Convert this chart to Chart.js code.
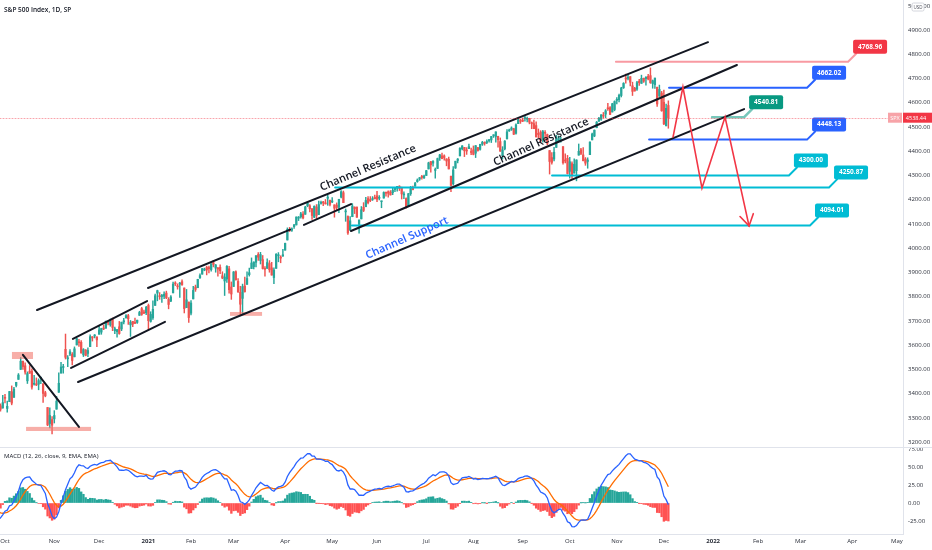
<!DOCTYPE html>
<html>
<head>
<meta charset="utf-8">
<script src="https://cdn.jsdelivr.net/npm/chart.js@4.4.0/dist/chart.umd.min.js"></script>
<style>
  html, body { margin: 0; padding: 0; background: #fff; }
  #wrap { position: relative; width: 932px; height: 550px; overflow: hidden; }
  #price { position: absolute; left: 0; top: 0; }
  #macd  { position: absolute; left: 0; top: 447px; }
</style>
</head>
<body>
<div id="wrap">
  <canvas id="price" width="932" height="447"></canvas>
  <canvas id="macd" width="932" height="103"></canvas>
</div>
<script>
/* ========= Data ========= */
// daily bars, bar 0 = 28 Sep 2020 ... bar 299 = 3 Dec 2021
const opens = [
  3333,3350,3341,
  3385,3339,3367,3408,3385,3434,3459,3500,3534,3515,3453,3493,3493,3439,3439,3439,3464,3441,3404,3343,3277,3293,
  3296,3336,3406,3485,3508,3583,3544,3563,3562,3552,3601,3611,3612,3560,3580,3566,3594,3635,3638,3634,
  3645,3654,3669,3670,3694,3684,3706,3660,3656,3676,3667,3696,3713,3722,3684,3698,3694,3694,3723,3751,3737,3734,
  3764,3698,3713,3764,3815,3803,3801,3802,3815,3789,3782,3816,3857,3844,3852,3862,3836,3755,3778,
  3732,3791,3840,3837,3878,3893,3910,3921,3917,3912,3940,3918,3915,3921,3886,3865,3873,3915,3840,
  3842,3903,3863,3818,3793,3844,3851,3891,3916,3924,3942,3974,3949,3953,3914,3917,3937,3919,3879,3917,3969,3964,3968,
  3992,4034,4075,4074,4089,4096,4124,4130,4141,4140,4175,4175,4163,4128,4170,4139,4185,4189,4185,4206,4198,
  4191,4179,4178,4169,4211,4229,4150,4131,4074,4130,4169,4170,4099,4121,4169,4171,4205,4201,4201,4210,
  4216,4206,4192,4207,4229,4233,4232,4229,4242,4248,4256,4249,4220,4205,4174,4225,4249,4256,4275,4285,4294,4290,
  4300,4327,4357,4351,4321,4329,4373,4381,4381,4369,4367,4297,4266,4331,4362,4381,4410,4416,4402,4411,4396,
  4406,4392,4415,4408,4429,4437,4436,4443,4447,4464,4461,4462,4440,4382,4410,4451,4484,4490,4493,4474,4514,4529,
  4528,4535,4532,4536,4518,4514,4506,4474,4479,4447,4477,4469,4403,4374,4368,4416,4439,4443,4419,4363,4371,
  4317,4349,4310,4320,4384,4406,4385,4368,4358,4386,4447,4463,4497,4524,4532,4547,4553,4579,4580,4562,4572,
  4610,4613,4630,4662,4700,4701,4708,4670,4660,4656,4689,4680,4701,4700,4709,4712,4679,4675,4664,4628,4640,
  4602,4505,4589
];
const highs = [
  3361,3358,3393,
  3397,3369,3409,3432,3426,3447,3483,3549,3534,3527,3490,3516,3502,3476,3465,3461,3466,3441,3410,3343,3342,3305,
  3330,3389,3486,3529,3521,3646,3557,3582,3570,3593,3628,3624,3619,3586,3582,3589,3643,3635,3644,3634,
  3678,3670,3683,3699,3698,3708,3712,3675,3665,3698,3695,3711,3726,3727,3702,3698,3712,3704,3740,3756,3745,3760,
  3770,3738,3783,3811,3827,3817,3810,3820,3823,3796,3805,3860,3862,3853,3859,3870,3836,3830,3778,
  3784,3843,3848,3872,3894,3916,3918,3926,3926,3937,3950,3933,3921,3931,3903,3895,3928,3925,3861,
  3904,3907,3875,3843,3852,3881,3903,3918,3960,3944,3970,3982,3983,3970,3924,3956,3949,3942,3919,3978,3982,3969,3995,
  4021,4084,4086,4084,4098,4129,4131,4148,4151,4173,4192,4180,4164,4175,4180,4194,4194,4193,4201,4219,4199,
  4209,4179,4187,4202,4238,4236,4162,4134,4131,4184,4171,4170,4117,4172,4188,4210,4213,4213,4213,4219,
  4235,4217,4194,4233,4232,4237,4238,4249,4249,4255,4258,4252,4233,4208,4226,4255,4256,4272,4286,4292,4301,4302,
  4321,4355,4358,4362,4331,4372,4387,4393,4385,4369,4376,4298,4337,4359,4370,4415,4423,4416,4415,4430,4413,
  4422,4424,4416,4429,4441,4439,4447,4449,4461,4468,4480,4462,4455,4419,4444,4489,4492,4501,4495,4513,4537,4532,
  4537,4545,4541,4536,4521,4529,4521,4492,4485,4486,4485,4471,4403,4395,4416,4466,4463,4457,4419,4389,4383,
  4375,4356,4369,4365,4430,4412,4415,4374,4373,4439,4475,4488,4523,4540,4551,4560,4572,4598,4584,4598,4608,
  4621,4636,4664,4683,4718,4714,4708,4685,4664,4688,4697,4714,4702,4708,4717,4744,4694,4702,4665,4673,4647,
  4652,4595,4608
];
const lows = [
  3333,3328,3340,
  3362,3324,3367,3354,3385,3428,3459,3500,3500,3480,3442,3484,3419,3435,3433,3416,3441,3364,3387,3268,3259,3234,
  3279,3336,3405,3485,3485,3543,3511,3557,3519,3552,3601,3595,3567,3553,3556,3553,3594,3617,3630,3594,
  3645,3645,3664,3670,3684,3678,3660,3648,3633,3645,3660,3688,3711,3686,3636,3676,3689,3690,3723,3723,3730,3726,
  3663,3695,3706,3764,3783,3789,3776,3792,3792,3750,3780,3816,3846,3831,3797,3847,3733,3755,3694,
  3725,3791,3822,3837,3875,3893,3907,3890,3898,3905,3923,3901,3885,3895,3874,3805,3859,3815,3789,
  3842,3868,3818,3723,3730,3819,3851,3885,3916,3915,3923,3950,3935,3914,3885,3917,3901,3889,3854,3917,3944,3940,3966,
  3992,4034,4069,4069,4082,4096,4114,4124,4121,4140,4171,4150,4119,4126,4123,4138,4182,4176,4182,4177,4175,
  4188,4128,4158,4147,4208,4188,4111,4057,4074,4130,4143,4127,4062,4121,4151,4171,4183,4192,4197,4203,
  4192,4199,4167,4207,4215,4211,4219,4221,4233,4235,4238,4203,4204,4165,4174,4218,4241,4256,4272,4280,4285,4288,
  4300,4327,4314,4339,4289,4329,4362,4369,4363,4340,4327,4233,4260,4329,4352,4381,4406,4378,4387,4411,4386,
  4385,4374,4400,4404,4424,4425,4431,4437,4436,4457,4437,4417,4400,4368,4406,4451,4482,4486,4469,4471,4514,4515,
  4522,4524,4521,4513,4493,4493,4459,4454,4436,4438,4448,4427,4306,4347,4360,4416,4436,4437,4347,4352,4306,
  4289,4288,4310,4278,4384,4386,4360,4342,4330,4386,4447,4460,4497,4523,4527,4537,4538,4569,4551,4562,4567,
  4595,4604,4624,4659,4681,4694,4670,4630,4648,4651,4672,4680,4684,4673,4694,4680,4660,4659,4585,4626,4565,
  4510,4505,4495
];
const closes = [
  3352,3336,3363,
  3381,3348,3409,3361,3419,3447,3477,3534,3512,3489,3483,3484,3427,3443,3436,3454,3465,3401,3391,3271,3310,3270,
  3310,3369,3443,3510,3509,3550,3546,3573,3537,3585,3627,3610,3568,3582,3558,3578,3635,3630,3638,3622,
  3663,3669,3667,3699,3692,3702,3673,3668,3664,3648,3695,3701,3722,3709,3695,3687,3690,3703,3735,3727,3732,3756,
  3701,3727,3748,3804,3825,3800,3801,3810,3795,3768,3799,3852,3853,3841,3855,3850,3751,3787,3714,
  3774,3826,3830,3872,3887,3916,3911,3910,3916,3935,3933,3931,3914,3907,3877,3881,3925,3829,3811,
  3902,3870,3820,3769,3842,3821,3875,3899,3939,3943,3969,3963,3974,3916,3913,3941,3911,3889,3910,3975,3971,3959,3973,
  4020,4078,4074,4080,4097,4129,4128,4142,4125,4170,4185,4163,4135,4173,4135,4180,4188,4187,4183,4211,4181,
  4193,4165,4168,4202,4233,4188,4152,4063,4113,4174,4163,4128,4116,4159,4156,4197,4188,4196,4201,4204,
  4202,4208,4193,4230,4227,4227,4220,4239,4247,4255,4247,4224,4222,4167,4225,4246,4242,4267,4281,4291,4292,4298,
  4320,4352,4344,4358,4321,4370,4385,4369,4374,4360,4327,4259,4323,4359,4368,4412,4422,4402,4401,4419,4395,
  4387,4423,4403,4429,4437,4432,4437,4448,4461,4468,4480,4448,4400,4406,4442,4480,4486,4496,4470,4509,4529,4523,
  4524,4537,4535,4520,4514,4493,4459,4469,4443,4481,4474,4433,4358,4354,4396,4449,4455,4443,4353,4360,4308,
  4357,4301,4346,4364,4400,4391,4361,4351,4364,4438,4471,4487,4520,4536,4550,4545,4567,4575,4552,4596,4605,
  4614,4631,4661,4680,4698,4702,4685,4647,4649,4683,4683,4701,4689,4705,4698,4683,4691,4702,4595,4655,4567,
  4513,4577,4538.44
];
// closes before the visible window (Jul - 25 Sep 2020), only used to warm up the MACD
const warmupCloses = [
  3115,3130,3179,3145,3169,3152,3185,3155,3197,3227,3215,3225,3251,3257,3276,3236,3216,3239,3218,3258,3246,3271,
  3295,3306,3327,3349,3351,3360,3333,3380,3373,3373,3382,3389,3375,3385,3397,3431,3443,3479,3485,3508,3500,
  3527,3580,3455,3427,3332,3399,3340,3341,3383,3401,3385,3358,3319,3281,3315,3237,3247,3298
];

// time axis: bar index of each month start (future months counted in trading days)
const monthBars   = [3, 25, 45, 67, 86, 105, 128, 149, 169, 191, 212, 234, 255, 276, 297, 319, 339, 358, 381, 401];
const monthLabels = ['Oct','Nov','Dec','2021','Feb','Mar','Apr','May','Jun','Jul','Aug','Sep','Oct','Nov','Dec','2022','Feb','Mar','Apr','May'];
const priceTicksStep = 100;
const macdTicksStep  = 25;

// drawings, in (bar, price)
const trendLines = [
  [11.0, 3560, 36.0, 3263],
  [17.3, 3745, 316.7, 4850],
  [33.3, 3626, 66.4, 3782],
  [32.5, 3506, 74.4, 3696],
  [66.8, 3836, 130.2, 4077],
  [136.4, 4096, 157.4, 4182],
  [35.6, 3448, 332.8, 4574],
  [157.4, 4071, 329.6, 4756]
];
const zoneBoxes = [
  [6.1, 15.5, 3572, 3543],
  [12.4, 41.4, 3263, 3246],
  [103.4, 117.7, 3737, 3721]
];
const levelStart  = [275.6, 299.3, 290.4, 318.5, 247.1, 150.3, 157.8];
const levelEnd    = [379.2, 360.9, 360.9, 332.8, 352.8, 370.7, 362.2];
const levelPrices = [4768.96, 4662.02, 4448.13, 4540.81, 4300.00, 4250.87, 4094.01];
const levelKinds  = ['red', 'blue', 'blue', 'green', 'cyan', 'cyan', 'cyan'];
const pathBars   = [301.1, 305.5, 314.0, 324.3, 335.0];
const pathPrices = [4459, 4665, 4248, 4541, 4092];
const noteBars   = [165.0, 242.2, 182.4];
const notePrices = [4331, 4438, 4042];
const noteTexts  = ['Channel Resistance', 'Channel Resistance', 'Channel Support'];

/* ========= Look ========= */
const UP = '#26a69a', DOWN = '#ef5350';
const FONT = '"Open Sans", "DejaVu Sans", sans-serif';
const AXIS_TXT = '#2a2e39';
const LINE_GRAY = '#e0e3eb';
const KIND = {
  red:   { line: 'rgba(242,54,69,0.5)', box: '#f23645' },
  blue:  { line: '#2962ff', box: '#2962ff' },
  green: { line: 'rgba(8,153,129,0.55)', box: '#089981' },
  cyan:  { line: '#00bcd4', box: '#00bcd4' }
};
const NOTE_COLORS = ['#131722', '#131722', '#2962ff'];
const NOTE_ANGLES = [-23, -24, -24];

// view window
const X_MIN = 0.77, X_MAX = 403.7;
const P_MIN = 3180, P_MAX = 5024;
const M_MIN = -43, M_MAX = 77.8;

/* ========= MACD (12, 26, close, 9) ========= */
function ema(src, len) {
  const k = 2 / (len + 1);
  let prev = src[0];
  return src.map((v, i) => (prev = i === 0 ? v : v * k + prev * (1 - k)));
}
const allCloses = warmupCloses.concat(closes);
const fast = ema(allCloses, 12);
const slow = ema(allCloses, 26);
const macdAll = fast.map((f, i) => f - slow[i]);
const signalAll = ema(macdAll, 9);
const skip = warmupCloses.length;
const macdLine = macdAll.slice(skip);
const signalLine = signalAll.slice(skip);
const hist = macdLine.map((m, i) => m - signalLine[i]);
const histColors = hist.map(h => (h >= 0 ? '#26a69a' : '#ff5252'));

/* ========= Helpers ========= */
function axisFit(width) {
  return (s) => { s.width = width; s.paddingTop = 0; s.paddingBottom = 0; };
}
function roundRect(ctx, x, y, w, h, r) {
  ctx.beginPath();
  ctx.moveTo(x + r, y);
  ctx.arcTo(x + w, y, x + w, y + h, r);
  ctx.arcTo(x + w, y + h, x, y + h, r);
  ctx.arcTo(x, y + h, x, y, r);
  ctx.arcTo(x, y, x + w, y, r);
  ctx.closePath();
}

const drawings = {
  id: 'drawings',
  afterDatasetsDraw(chart) {
    const { ctx, scales: { x, y } } = chart;
    ctx.save();
    ctx.lineCap = 'round';

    // zones
    ctx.fillStyle = 'rgba(242,120,110,0.6)';
    zoneBoxes.forEach(([b1, b2, p1, p2]) => {
      const x1 = x.getPixelForValue(b1), x2 = x.getPixelForValue(b2);
      const y1 = y.getPixelForValue(p1), y2 = y.getPixelForValue(p2);
      ctx.fillRect(x1, y1, x2 - x1, y2 - y1);
    });

    // levels with callout labels
    levelPrices.forEach((p, i) => {
      const k = KIND[levelKinds[i]];
      const x1 = x.getPixelForValue(levelStart[i]), x2 = x.getPixelForValue(levelEnd[i]);
      const py = y.getPixelForValue(p);
      ctx.strokeStyle = k.line;
      ctx.lineWidth = levelKinds[i] === 'green' ? 2.5 : 2;
      ctx.beginPath();
      ctx.moveTo(x1, py); ctx.lineTo(x2, py);
      ctx.lineTo(x2 + 8, py - 8);
      ctx.stroke();
      ctx.fillStyle = k.box;
      roundRect(ctx, x2 + 5, py - 22, 34, 14, 2);
      ctx.fill();
      ctx.fillStyle = '#fff';
      ctx.font = '700 6.5px ' + FONT;
      ctx.textAlign = 'center';
      ctx.textBaseline = 'middle';
      ctx.fillText(p.toFixed(2), x2 + 22, py - 15);
    });

    // trend lines
    ctx.strokeStyle = '#131722';
    ctx.lineWidth = 2;
    trendLines.forEach(([b1, p1, b2, p2]) => {
      ctx.beginPath();
      ctx.moveTo(x.getPixelForValue(b1), y.getPixelForValue(p1));
      ctx.lineTo(x.getPixelForValue(b2), y.getPixelForValue(p2));
      ctx.stroke();
    });

    // projected path with arrow
    ctx.strokeStyle = '#f23645';
    ctx.lineWidth = 1.6;
    ctx.beginPath();
    pathBars.forEach((b, i) => {
      const px = x.getPixelForValue(b), py = y.getPixelForValue(pathPrices[i]);
      i ? ctx.lineTo(px, py) : ctx.moveTo(px, py);
    });
    ctx.stroke();
    const n = pathBars.length;
    const ex = x.getPixelForValue(pathBars[n - 1]), ey = y.getPixelForValue(pathPrices[n - 1]);
    const sx = x.getPixelForValue(pathBars[n - 2]), sy = y.getPixelForValue(pathPrices[n - 2]);
    const ang = Math.atan2(ey - sy, ex - sx);
    ctx.beginPath();
    ctx.moveTo(ex - 13 * Math.cos(ang - 0.55), ey - 13 * Math.sin(ang - 0.55));
    ctx.lineTo(ex, ey);
    ctx.lineTo(ex - 13 * Math.cos(ang + 0.55), ey - 13 * Math.sin(ang + 0.55));
    ctx.stroke();

    // notes
    ctx.font = '600 11px ' + FONT;
    ctx.textAlign = 'center';
    ctx.textBaseline = 'middle';
    noteTexts.forEach((t, i) => {
      ctx.save();
      ctx.translate(x.getPixelForValue(noteBars[i]), y.getPixelForValue(notePrices[i]));
      ctx.rotate(NOTE_ANGLES[i] * Math.PI / 180);
      ctx.fillStyle = NOTE_COLORS[i];
      ctx.fillText(t, 0, 0);
      ctx.restore();
    });

    // last price line
    const last = closes[closes.length - 1];
    const ly = Math.round(y.getPixelForValue(last)) + 0.5;
    ctx.strokeStyle = 'rgba(242,54,69,0.45)';
    ctx.lineWidth = 1;
    ctx.setLineDash([1, 2]);
    ctx.beginPath();
    ctx.moveTo(0, ly); ctx.lineTo(chart.chartArea.right, ly);
    ctx.stroke();
    ctx.restore();
  },
  afterDraw(chart) {
    const { ctx, scales: { y }, chartArea } = chart;
    ctx.save();
    // title
    ctx.fillStyle = '#131722';
    ctx.font = '600 6.5px ' + FONT;
    ctx.textBaseline = 'middle';
    ctx.textAlign = 'left';
    ctx.fillText('S&P 500 Index, 1D, SP', 4, 10);

    // last price tags
    const last = closes[closes.length - 1];
    const ly = y.getPixelForValue(last);
    ctx.fillStyle = '#f7a3a8';
    ctx.fillRect(chartArea.right - 15, ly - 5, 14, 10);
    ctx.fillStyle = '#f23645';
    ctx.fillRect(chartArea.right, ly - 5, 29, 10);
    ctx.fillStyle = '#fff';
    ctx.font = '5.5px ' + FONT;
    ctx.textAlign = 'center';
    ctx.fillText('SPX', chartArea.right - 8, ly + 0.5);
    ctx.fillText(last.toFixed(2), chartArea.right + 13, ly + 0.5);

    // currency badge
    ctx.fillStyle = '#fff';
    ctx.strokeStyle = '#c9ccd4';
    ctx.lineWidth = 0.8;
    roundRect(ctx, chartArea.right + 9, 3, 12, 8, 1.5);
    ctx.fill(); ctx.stroke();
    ctx.fillStyle = '#50535e';
    ctx.font = '4.5px ' + FONT;
    ctx.fillText('USD', chartArea.right + 15, 7.3);
    ctx.restore();
  }
};

const macdDecor = {
  id: 'macdDecor',
  afterDraw(chart) {
    const { ctx } = chart;
    ctx.save();
    ctx.strokeStyle = LINE_GRAY;
    ctx.lineWidth = 1;
    ctx.beginPath();
    ctx.moveTo(0, 0.5); ctx.lineTo(chart.width, 0.5);
    ctx.stroke();
    ctx.fillStyle = '#131722';
    ctx.font = '6px ' + FONT;
    ctx.textBaseline = 'middle';
    ctx.fillText('MACD (12, 26, close, 9, EMA, EMA)', 4, 9);
    ctx.restore();
  }
};

/* ========= Price chart ========= */
const barIdx = closes.map((c, i) => i);
const candleColors = closes.map((c, i) => (c >= opens[i] ? UP : DOWN));

new Chart(document.getElementById('price'), {
  type: 'bar',
  data: {
    datasets: [
      {
        label: 'body',
        data: barIdx.map(i => ({ x: i, y: [opens[i], closes[i]] })),
        backgroundColor: candleColors,
        barThickness: 1.6,
        minBarLength: 1,
        grouped: false,
        order: 0
      },
      {
        label: 'wick',
        data: barIdx.map(i => ({ x: i, y: [lows[i], highs[i]] })),
        backgroundColor: candleColors,
        barThickness: 0.8,
        grouped: false,
        order: 1
      }
    ]
  },
  options: {
    responsive: false,
    animation: false,
    layout: { padding: 0 },
    plugins: { legend: { display: false }, tooltip: { enabled: false } },
    scales: {
      x: { type: 'linear', min: X_MIN, max: X_MAX, offset: false, display: false },
      y: {
        position: 'right',
        min: P_MIN, max: P_MAX,
        grid: { color: 'rgba(0,0,0,0)', drawTicks: false },
        border: { color: LINE_GRAY },
        ticks: {
          stepSize: priceTicksStep, includeBounds: false, padding: 5,
          color: AXIS_TXT, font: { size: 6, family: FONT },
          callback: v => v.toFixed(2)
        },
        afterFit: axisFit(29)
      }
    }
  },
  plugins: [drawings]
});

/* ========= MACD chart ========= */
new Chart(document.getElementById('macd'), {
  type: 'bar',
  data: {
    datasets: [
      {
        type: 'line', label: 'MACD',
        data: barIdx.map(i => ({ x: i, y: macdLine[i] })),
        borderColor: '#2962ff', borderWidth: 1.3, pointRadius: 0, order: 0
      },
      {
        type: 'line', label: 'Signal',
        data: barIdx.map(i => ({ x: i, y: signalLine[i] })),
        borderColor: '#ff6d00', borderWidth: 1.3, pointRadius: 0, order: 1
      },
      {
        label: 'Histogram',
        data: barIdx.map(i => ({ x: i, y: hist[i] })),
        backgroundColor: histColors,
        barThickness: 1.7,
        grouped: false,
        order: 2
      }
    ]
  },
  options: {
    responsive: false,
    animation: false,
    layout: { padding: 0 },
    plugins: { legend: { display: false }, tooltip: { enabled: false } },
    scales: {
      x: {
        type: 'linear', min: X_MIN, max: X_MAX, offset: false,
        grid: { color: 'rgba(0,0,0,0)', drawTicks: false },
        border: { color: LINE_GRAY },
        afterBuildTicks: s => { s.ticks = monthBars.map(v => ({ value: v })); },
        ticks: {
          autoSkip: false, maxRotation: 0, minRotation: 0, padding: 4,
          color: AXIS_TXT,
          font: c => ({ size: 6, family: FONT, weight: /^\d{4}$/.test(monthLabels[c.index]) ? '700' : '400' }),
          callback: (v, i) => monthLabels[i]
        },
        afterFit: s => { s.height = 16; s.paddingLeft = 0; s.paddingRight = 0; }
      },
      y: {
        position: 'right',
        min: M_MIN, max: M_MAX,
        grid: { color: 'rgba(0,0,0,0)', drawTicks: false },
        border: { color: LINE_GRAY },
        ticks: {
          stepSize: macdTicksStep, includeBounds: false, padding: 5,
          color: AXIS_TXT, font: { size: 6, family: FONT },
          callback: v => v.toFixed(2)
        },
        afterFit: axisFit(29)
      }
    }
  },
  plugins: [macdDecor]
});
</script>
</body>
</html>
